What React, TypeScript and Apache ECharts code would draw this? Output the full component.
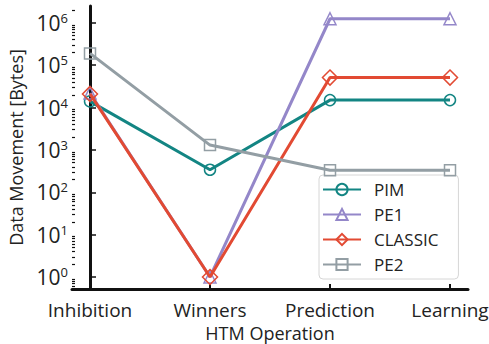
import React, { useEffect, useRef } from "react";
import * as echarts from "echarts";

const categories = ["Inhibition", "Winners", "Prediction", "Learning"];
const seriesNames = ["PIM", "PE1", "CLASSIC", "PE2"];
const pim = [1.4e4, 340, 1.5e4, 1.5e4];
const pe1 = [2.2e4, 1, 1.25e6, 1.25e6];
const classic = [2.1e4, 1, 5.1e4, 5.1e4];
const pe2 = [1.9e5, 1.3e3, 330, 330];
const majorTicks = [1, 10, 100, 1e3, 1e4, 1e5, 1e6];
const colors = ["#138583", "#9487c9", "#e24a33", "#939ea4"];
const symbols = ["circle", "triangle", "diamond", "rect"];
const symbolSizes = [11, 12, 15, 11];

const minorTicks: number[] = [];
for (let d = 0; d <= 6; d++) {
  for (let m = 2; m <= 9; m++) {
    const v = m * Math.pow(10, d);
    if (v <= 2.5e6) minorTicks.push(v);
  }
}
const minorLow = [0.6, 0.7, 0.8, 0.9];

const FONT = "Open Sans";

export default function App() {
  const ref = useRef<HTMLDivElement>(null);
  useEffect(() => {
    if (!ref.current) return;
    const chart = echarts.init(ref.current, undefined, { renderer: "svg" });
    const allData = [pim, pe1, classic, pe2];
    const yMin = 0.52;
    const yMax = 2.5e6;
    chart.setOption({
      animation: false,
      textStyle: { fontFamily: FONT },
      grid: { left: 72, right: 21, top: 6, bottom: 55, outerBoundsMode: "none", containLabel: false },
      xAxis: {
        type: "value",
        min: -0.15,
        max: 3.15,
        name: "HTM Operation",
        nameLocation: "middle",
        nameGap: 35,
        nameTextStyle: { fontFamily: FONT, fontSize: 18, color: "#222" },
        axisLine: { show: true, lineStyle: { color: "#111", width: 3 } },
        axisTick: { show: true, inside: true, length: 5, customValues: [0, 1, 2, 3], lineStyle: { color: "#111", width: 2 } },
        axisLabel: {
          customValues: [0, 1, 2, 3],
          formatter: (v: number) => categories[Math.round(v)] ?? "",
          fontFamily: FONT,
          fontSize: 19,
          color: "#222",
          margin: 11,
        },
        splitLine: { show: false },
      },
      yAxis: [
        {
          type: "log",
          min: yMin,
          max: yMax,
          name: "Data Movement [Bytes]",
          nameLocation: "middle",
          nameGap: 47,
          nameTextStyle: { fontFamily: FONT, fontSize: 18, color: "#222" },
          axisLine: { show: true, lineStyle: { color: "#111", width: 3 } },
          axisTick: { show: true, inside: true, length: 6, customValues: majorTicks, lineStyle: { color: "#111", width: 1.5 } },
          axisLabel: {
            customValues: majorTicks,
            formatter: (v: number) => "10{sup|" + Math.round(Math.log10(v)) + "}",
            fontFamily: FONT,
            fontSize: 21,
            color: "#222",
            margin: 4,
            rich: {
              sup: { fontFamily: FONT, fontSize: 13, color: "#222", verticalAlign: "top", padding: [0, 0, 10, 0] },
            },
          },
          splitLine: { show: false },
        },
        {
          type: "log",
          min: yMin,
          max: yMax,
          position: "left",
          axisLine: { show: false },
          axisTick: { show: true, inside: true, length: 3, customValues: [...minorLow, ...minorTicks], lineStyle: { color: "#111", width: 1.2 } },
          axisLabel: { show: false },
          splitLine: { show: false },
        },
      ],
      legend: {
        orient: "vertical",
        left: 319,
        top: 175,
        padding: [6, 20, 6, 3],
        itemGap: 8,
        itemWidth: 38,
        itemHeight: 14,
        backgroundColor: "rgba(255,255,255,0.85)",
        borderColor: "#d6d6d6",
        borderWidth: 1,
        borderRadius: 4,
        textStyle: { fontFamily: FONT, fontSize: 17, color: "#222", padding: [0, 0, 0, 8] },
        data: seriesNames,
      },
      series: seriesNames.map((name, i) => ({
        name,
        type: "line",
        data: allData[i].map((v, j) => [j, v]),
        symbol: symbols[i],
        symbolSize: symbolSizes[i],
        showAllSymbol: true,
        color: colors[i],
        lineStyle: { color: colors[i], width: 3 },
        itemStyle: { color: "rgba(255,255,255,0)", borderColor: colors[i], borderWidth: 1.5 },
        z: 2 + i,
      })),
    });
    return () => chart.dispose();
  }, []);
  return <div ref={ref} style={{ width: 489, height: 344, position: "absolute", left: 0, top: 0 }} />;
}
